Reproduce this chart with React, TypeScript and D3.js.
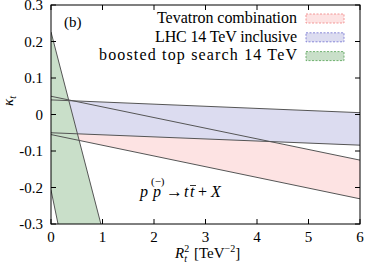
import React from 'react';
import * as d3 from 'd3';

// R_t^2 positions where each boundary line is sampled
const rSq = [0, 6];
const tevatronUpper = [0.05, -0.125];
const tevatronLower = [-0.055, -0.231];
const lhcUpper = [0.04, 0.005];
const lhcLower = [-0.05, -0.084];

// boosted band is steep, so sample it at 0 and 1
const rSqBoosted = [0, 1];
const boostedUpper = [0.226, -0.317];
const boostedLower = [-0.207, -0.887];

const xTicks = [0, 1, 2, 3, 4, 5, 6];
const yTicks = [0.3, 0.2, 0.1, 0, -0.1, -0.2, -0.3];
const yTickLabels = ['0.3', '0.2', '0.1', '0', '-0.1', '-0.2', '-0.3'];

const legendLabels = ['Tevatron combination', 'LHC 14 TeV inclusive', 'boosted top search 14 TeV'];
const legendWidths = [140, 142, 198];

const W = 366;
const H = 266;
const margin = { top: 5, right: 6, bottom: 42, left: 51 };
const font = '"Liberation Serif", serif';

function App() {
  const x = d3.scaleLinear().domain([0, 6]).range([margin.left, W - margin.right]);
  const y = d3.scaleLinear().domain([-0.3, 0.3]).range([H - margin.bottom, margin.top]);

  const bands = [
    { rs: rSq, up: tevatronUpper, lo: tevatronLower, fill: '#fde3e3', edge: '#f08080' },
    { rs: rSq, up: lhcUpper, lo: lhcLower, fill: '#dcdcf0', edge: '#7070d0' },
    { rs: rSqBoosted, up: boostedUpper, lo: boostedLower, fill: '#c9dfc9', edge: '#50a050' },
  ];

  const line = d3.line<[number, number]>().x(d => x(d[0])).y(d => y(d[1]));

  const x0 = margin.left;
  const x1 = W - margin.right;
  const y0 = margin.top;
  const y1 = H - margin.bottom;
  const tick = 5;

  return (
    <svg width={W} height={H} style={{ position: 'absolute', left: 0, top: 0, background: '#fff' }}>
      <defs>
        <clipPath id="plot">
          <rect x={x0} y={y0} width={x1 - x0} height={y1 - y0} />
        </clipPath>
      </defs>
      <g clipPath="url(#plot)">
        {bands.map((b, i) => {
          const pts: [number, number][] = [
            [b.rs[0], b.up[0]], [b.rs[1], b.up[1]], [b.rs[1], b.lo[1]], [b.rs[0], b.lo[0]],
          ];
          return <path key={'f' + i} d={line(pts) + 'Z'} fill={b.fill} stroke="none" />;
        })}
        {bands.map((b, i) => (
          <g key={'l' + i}>
            <path d={line(b.rs.map((r, j) => [r, b.up[j]] as [number, number])) || ''} fill="none" stroke="#555" strokeWidth={1} />
            <path d={line(b.rs.map((r, j) => [r, b.lo[j]] as [number, number])) || ''} fill="none" stroke="#555" strokeWidth={1} />
          </g>
        ))}
      </g>

      {/* frame and mirrored inward ticks */}
      <rect x={x0} y={y0} width={x1 - x0} height={y1 - y0} fill="none" stroke="#000" strokeWidth={1} />
      {xTicks.map(t => (
        <g key={'xt' + t}>
          <line x1={x(t)} x2={x(t)} y1={y1} y2={y1 - tick} stroke="#000" />
          <line x1={x(t)} x2={x(t)} y1={y0} y2={y0 + tick} stroke="#000" />
          <text x={x(t)} y={y1 + 18} textAnchor="middle" fontFamily={font} fontSize={15}>{t}</text>
        </g>
      ))}
      {yTicks.map((t, i) => (
        <g key={'yt' + i}>
          <line x1={x0} x2={x0 + tick} y1={y(t)} y2={y(t)} stroke="#000" />
          <line x1={x1} x2={x1 - tick} y1={y(t)} y2={y(t)} stroke="#000" />
          <text x={x0 - 8} y={y(t) + 5} textAnchor="end" fontFamily={font} fontSize={15}>{yTickLabels[i]}</text>
        </g>
      ))}

      {/* legend */}
      {legendLabels.map((l, i) => (
        <g key={'lg' + i}>
          <text x={297 - legendWidths[i]} y={23 + i * 18.7} fontFamily={font} fontSize={16}
            textLength={legendWidths[i]} lengthAdjust="spacing">{l}</text>
          <rect x={306} y={14 + i * 18.8} width={38} height={9} fill={bands[i].fill} stroke={bands[i].edge} strokeWidth={0.8} strokeDasharray="2,1.5" />
        </g>
      ))}

      <text x={64} y={27} fontFamily={font} fontSize={15}>(b)</text>

      {/* process annotation */}
      <g fontFamily={font} fontSize={16} fontStyle="italic">
        <text x={140} y={197}>p</text>
        <text x={153} y={197}>p</text>
        <text x={151} y={185} fontStyle="normal" fontSize={11}>(−)</text>
        <text x={166} y={197} fontStyle="normal" fontSize={17}>→</text>
        <text x={184} y={197}>t</text>
        <text x={190} y={197}>t</text>
        <line x1={190} x2={196} y1={185.5} y2={185.5} stroke="#000" strokeWidth={0.8} />
        <text x={198} y={197} fontStyle="normal">+</text>
        <text x={211} y={197}>X</text>
      </g>

      {/* axis titles */}
      <text x={175} y={258} fontFamily={font} fontSize={15}>
        <tspan fontStyle="italic">R</tspan>
        <tspan fontSize={10} dy={-6}>2</tspan>
        <tspan fontSize={10} fontStyle="italic" dx={-5} dy={10}>t</tspan>
        <tspan dx={7} dy={-4}>[TeV</tspan>
        <tspan fontSize={10} dy={-6}>−2</tspan>
        <tspan dy={6}>]</tspan>
      </text>
      <text transform="translate(13,101) rotate(-90)" fontFamily={font} fontSize={15} textAnchor="middle">
        <tspan fontStyle="italic">κ</tspan>
        <tspan fontSize={10} fontStyle="italic" dy={3}>t</tspan>
      </text>
    </svg>
  );
}

export default App;
